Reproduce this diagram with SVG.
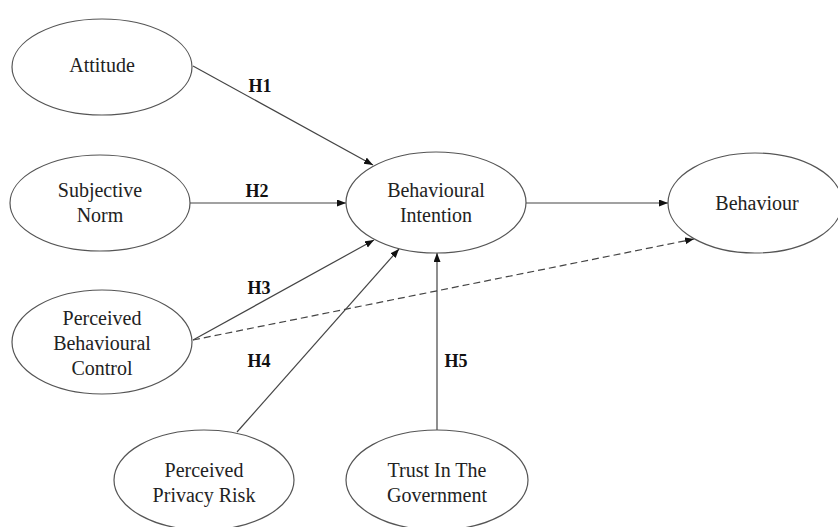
<svg xmlns="http://www.w3.org/2000/svg" width="838" height="527" viewBox="0 0 838 527">
<defs>
<style>
.node ellipse{fill:#fff;stroke:#555;stroke-width:1.2}
.node text{font-family:"Liberation Serif","Times New Roman",serif;font-size:20px;fill:#222;text-anchor:middle}
.lbl{font-family:"Liberation Serif","Times New Roman",serif;font-size:18px;font-weight:bold;fill:#111;text-anchor:middle}
.conn line{stroke:#444;stroke-width:1.2;fill:none}
.dash{stroke-dasharray:7 4}
</style>
<marker id="arr" markerUnits="userSpaceOnUse" markerWidth="10" markerHeight="8" refX="9" refY="3.5" orient="auto">
<path d="M0,0 L9,3.5 L0,7 z" fill="#111"/>
</marker>
</defs>
<rect width="838" height="527" fill="#fff"/>
<g id="connectors" class="conn">
<line x1="193" y1="66" x2="373" y2="165" marker-end="url(#arr)"/>
<line x1="190" y1="203" x2="346" y2="203" marker-end="url(#arr)"/>
<line x1="193" y1="340" x2="374" y2="240" marker-end="url(#arr)"/>
<line x1="193" y1="340" x2="694" y2="239" class="dash" marker-end="url(#arr)"/>
<line x1="237" y1="432" x2="399" y2="249" marker-end="url(#arr)"/>
<line x1="437" y1="430" x2="437" y2="253" marker-end="url(#arr)"/>
<line x1="526" y1="203" x2="668" y2="203" marker-end="url(#arr)"/>
</g>
<g id="labels">
<text class="lbl" x="260" y="91.5">H1</text>
<text class="lbl" x="257" y="196.5">H2</text>
<text class="lbl" x="259" y="293.5">H3</text>
<text class="lbl" x="259" y="366.5">H4</text>
<text class="lbl" x="456" y="366.5">H5</text>
</g>
<g id="attitude" class="node">
<ellipse cx="102" cy="67" rx="90" ry="48"/>
<text x="102" y="72">Attitude</text>
</g>
<g id="subjective-norm" class="node">
<ellipse cx="100" cy="203" rx="90" ry="48"/>
<text x="100" y="197">Subjective</text>
<text x="100" y="222">Norm</text>
</g>
<g id="pbc" class="node">
<ellipse cx="102" cy="342" rx="90" ry="52"/>
<text x="102" y="325">Perceived</text>
<text x="102" y="350">Behavioural</text>
<text x="102" y="375">Control</text>
</g>
<g id="behavioural-intention" class="node">
<ellipse cx="436" cy="202.5" rx="90" ry="50.5"/>
<text x="436" y="197">Behavioural</text>
<text x="436" y="222">Intention</text>
</g>
<g id="behaviour" class="node">
<ellipse cx="755" cy="203" rx="87" ry="50"/>
<text x="757" y="210">Behaviour</text>
</g>
<g id="ppr" class="node">
<ellipse cx="204" cy="480" rx="90" ry="50"/>
<text x="204" y="477">Perceived</text>
<text x="204" y="502">Privacy Risk</text>
</g>
<g id="trust" class="node">
<ellipse cx="437" cy="480" rx="91" ry="50"/>
<text x="437" y="477">Trust In The</text>
<text x="437" y="502">Government</text>
</g>
</svg>
